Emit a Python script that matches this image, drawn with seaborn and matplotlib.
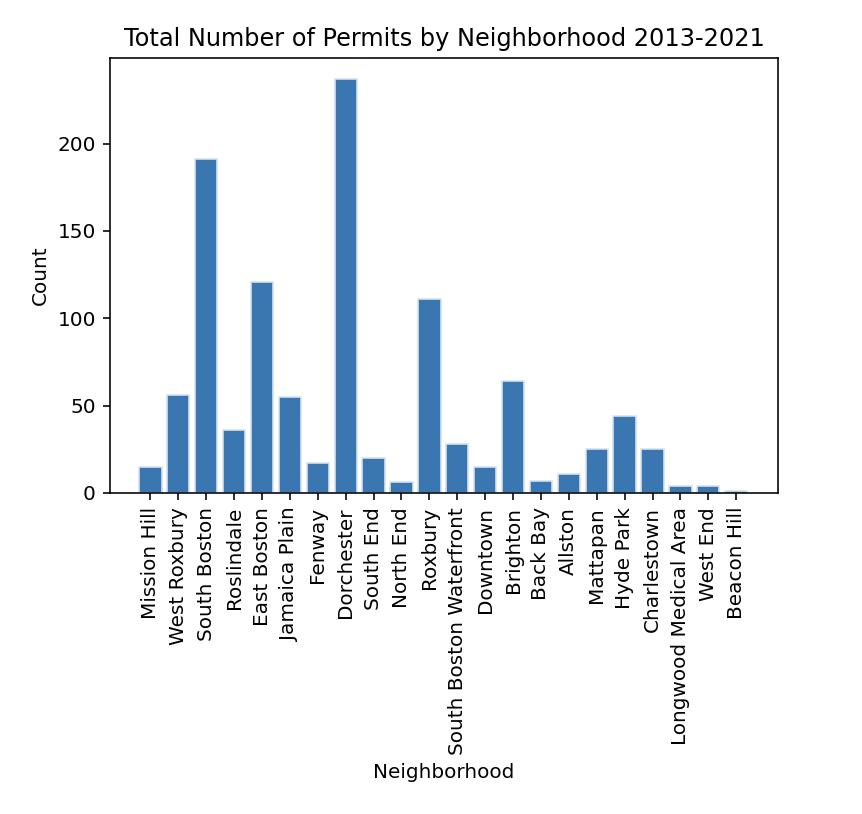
import matplotlib
matplotlib.use("Agg")
import matplotlib.pyplot as plt
import seaborn as sns
import pandas as pd

# permit counts per neighborhood
neighborhoods = ["Mission Hill", "West Roxbury", "South Boston", "Roslindale",
                 "East Boston", "Jamaica Plain", "Fenway", "Dorchester",
                 "South End", "North End", "Roxbury", "South Boston Waterfront",
                 "Downtown", "Brighton", "Back Bay", "Allston", "Mattapan",
                 "Hyde Park", "Charlestown", "Longwood Medical Area",
                 "West End", "Beacon Hill"]
counts = [15, 56, 191, 36, 121, 55, 17, 237, 20, 6, 111, 28,
          15, 64, 7, 11, 25, 44, 25, 4, 4, 1]

df = pd.DataFrame({"Neighborhood": neighborhoods, "Count": counts})

fig = plt.figure(figsize=(862 / 144, 814 / 144), dpi=144)
ax = fig.add_axes([0.1276, 0.3944, 0.775, 0.5343])

sns.barplot(data=df, x="Neighborhood", y="Count", color="#3a76af",
            saturation=1, width=0.8, edgecolor="#d6e3f0", linewidth=0.8, ax=ax)

ax.set_xlim(-1.45, 22.5)
ax.set_ylim(0, 249)
ax.set_yticks([0, 50, 100, 150, 200])
ax.tick_params(axis="x", labelrotation=90)
ax.set_title("Total Number of Permits by Neighborhood 2013-2021")
ax.set_xlabel("Neighborhood")
ax.set_ylabel("Count")

fig.savefig("out.png", dpi=144)
